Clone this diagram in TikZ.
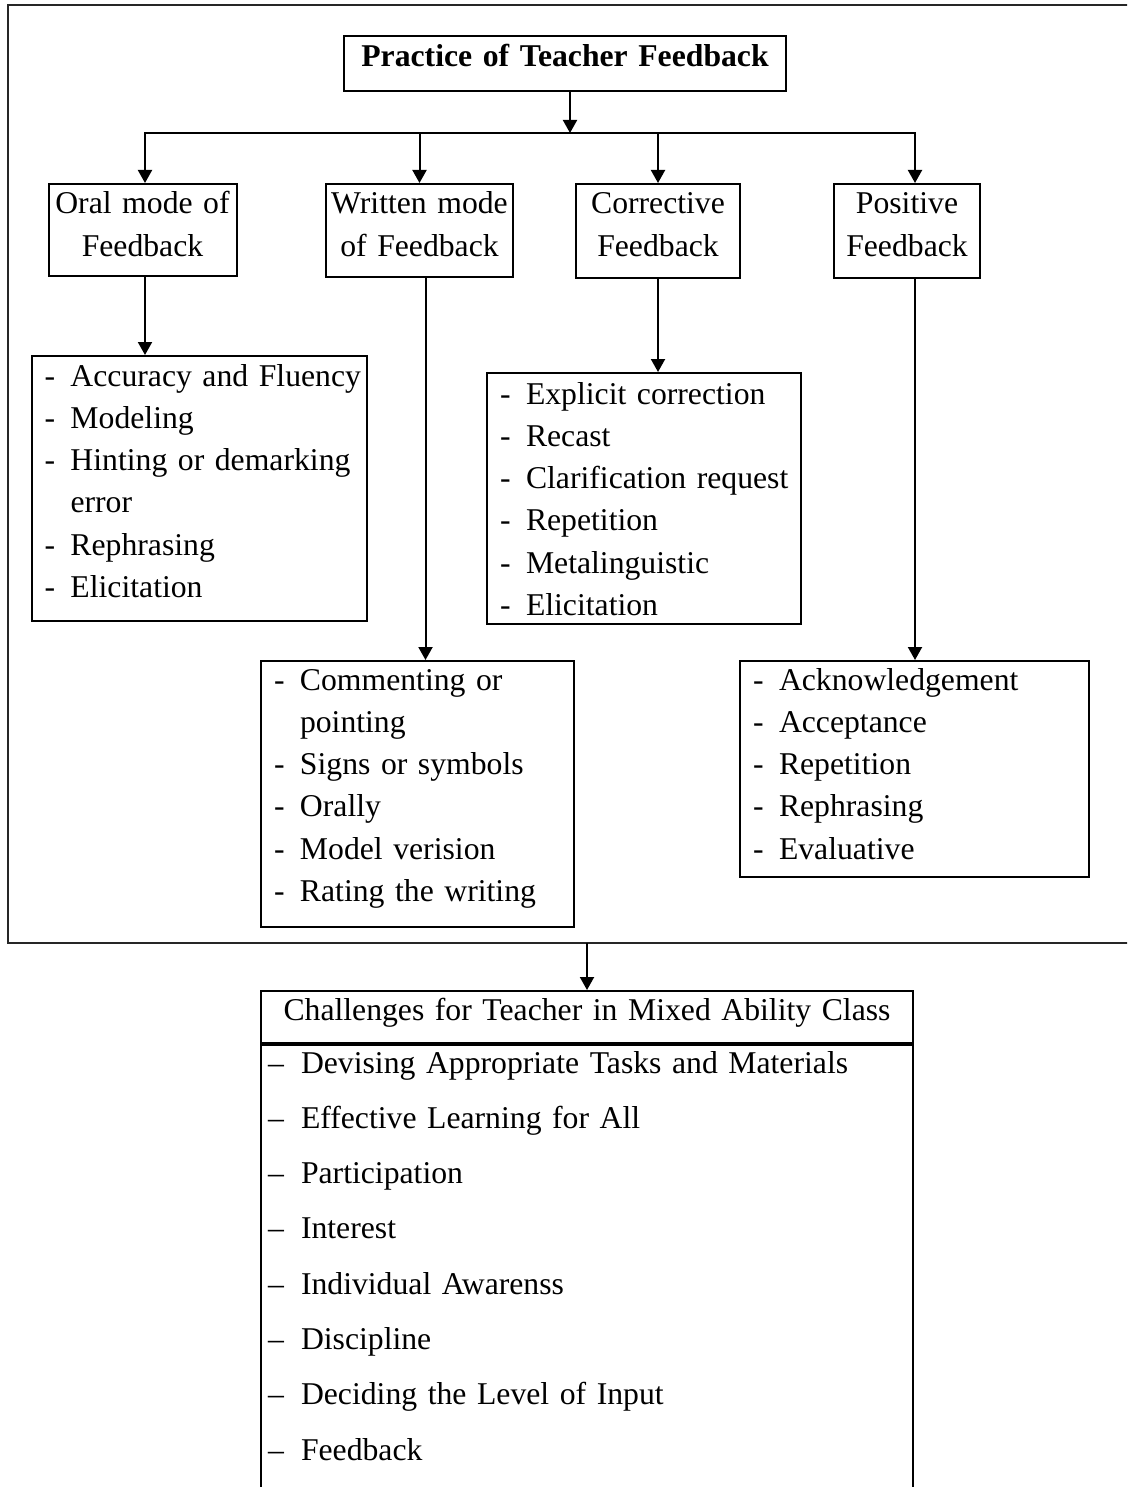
\documentclass[tikz,border=0pt]{standalone}
\usepackage{fontspec}
\setmainfont{Liberation Serif}
\usetikzlibrary{arrows.meta}

\newcommand{\fblist}[1]{\begin{tabular}[t]{@{\hspace{13pt}}p{26pt}@{}l@{}}#1\end{tabular}}
\newcommand{\chlist}[1]{\begin{tabular}[t]{@{\hspace{7pt}}p{33pt}@{}l@{}}#1\end{tabular}}

\begin{document}
\begin{tikzpicture}[x=1pt,y=-1pt,
    font=\fontsize{31.7}{42.3}\selectfont,
    box/.style={draw,line width=2pt,inner sep=0pt,anchor=north west,align=center},
    listbox/.style={draw,line width=2pt,inner sep=0pt,anchor=north west,align=left},
    arr/.style={line width=2pt,-{Triangle[length=13pt,width=14pt]}}]
  \useasboundingbox (0,0) rectangle (1127,1487);
  \clip (0,0) rectangle (1127,1487);
  % outer frame, open on the right
  \draw[line width=2.2pt,black!85] (1140,5) -- (8,5) -- (8,943) -- (1140,943);

  % top box and the four kinds of feedback
  \node[box,text width=442pt,text height=31pt,text depth=24pt] (title) at (343,35) {\textbf{Practice of Teacher Feedback}};
  \node[box,text width=188pt,text height=30pt,text depth=62pt] (oral) at (47.5,183) {Oral mode of\\Feedback};
  \node[box,text width=187pt,text height=30pt,text depth=63pt] (written) at (325,183) {Written mode\\of Feedback};
  \node[box,text width=164pt,text height=30pt,text depth=64pt] (corr) at (575,183) {Corrective\\Feedback};
  \node[box,text width=146pt,text height=30pt,text depth=64pt] (pos) at (833,183) {Positive\\Feedback};

  % the lists under them
  \node[listbox,text width=335pt,text height=30pt,text depth=235pt] (orallist) at (30.5,355) {\fblist{
    - & Accuracy and Fluency\\ - & Modeling\\ - & Hinting or demarking\\ & error\\ - & Rephrasing\\ - & Elicitation}};
  \node[listbox,text width=314pt,text height=31pt,text depth=220pt] (corrlist) at (486,372) {\fblist{
    - & Explicit correction\\ - & Recast\\ - & Clarification request\\ - & Repetition\\ - & Metalinguistic\\ - & Elicitation}};
  \node[listbox,text width=313pt,text height=29pt,text depth=237pt] (writlist) at (260,660) {\fblist{
    - & Commenting or\\ & pointing\\ - & Signs or symbols\\ - & Orally\\ - & Model verision\\ - & Rating the writing}};
  \node[listbox,text width=349pt,text height=29pt,text depth=187pt] (poslist) at (739,660) {\fblist{
    - & Acknowledgement\\ - & Acceptance\\ - & Repetition\\ - & Rephrasing\\ - & Evaluative}};

  % challenges below the frame
  \node[box,text width=652pt,text height=29pt,text depth=23pt] (chal) at (260,990) {Challenges for Teacher in Mixed Ability Class};
  \node[listbox,anchor=north,text width=652pt,text height=28pt,text depth=480pt,
        font=\fontsize{31.7}{55.3}\selectfont] (chalitems) at (chal.south) {\chlist{
    -- & Devising Appropriate Tasks and Materials\\ -- & Effective Learning for All\\ -- & Participation\\
    -- & Interest\\ -- & Individual Awarenss\\ -- & Discipline\\ -- & Deciding the Level of Input\\ -- & Feedback}};

  % connectors
  \coordinate (hub) at (570,133);
  \coordinate (busL) at (145,133);
  \coordinate (busR) at (915,133);
  \coordinate (framebot) at (585,943);
  \draw[arr] (title.south -| hub) -- (hub);
  \draw[arr] (hub) -- (busL) -- (busL |- oral.north);
  \draw[arr] (hub) -- (busR) -- (busR |- pos.north);
  \draw[arr] (written.north |- hub) -- (written.north);
  \draw[arr] (corr.north |- hub) -- (corr.north);
  \draw[arr] (busL |- oral.south) -- (busL |- orallist.north);
  \draw[arr] ([xshift=6pt]written.south) -- ([xshift=6pt]written.south |- writlist.north);
  \draw[arr] (corr.south) -- (corr.south |- corrlist.north);
  \draw[arr] (busR |- pos.south) -- (busR |- poslist.north);
  \draw[arr] (chal.north |- framebot) -- (chal.north);
\end{tikzpicture}
\end{document}
